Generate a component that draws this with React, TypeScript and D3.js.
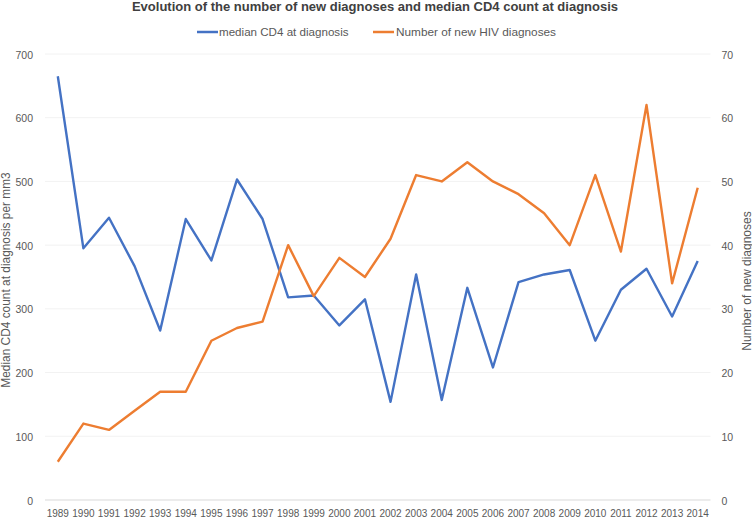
import React from "react";
import * as d3 from "d3";

const years = [
  "1989","1990","1991","1992","1993","1994","1995","1996","1997","1998","1999","2000","2001",
  "2002","2003","2004","2005","2006","2007","2008","2009","2010","2011","2012","2013","2014",
];
const medianCD4 = [665, 395, 443, 367, 266, 441, 376, 503, 441, 318, 321, 274, 315, 154, 354, 157, 333, 208, 342, 354, 361, 250, 330, 363, 288, 375];
const newDiagnoses = [6, 12, 11, 14, 17, 17, 25, 27, 28, 40, 32, 38, 35, 41, 51, 50, 53, 50, 48, 45, 40, 51, 39, 62, 34, 49];
const leftTicks = [0, 100, 200, 300, 400, 500, 600, 700];
const rightTicks = [0, 10, 20, 30, 40, 50, 60, 70];

const W = 752;
const H = 519;
const FONT = "'Liberation Sans', Arial, sans-serif";
const BLUE = "#4472C4";
const ORANGE = "#ED7D31";
const TXT = "#595959";

export default function App() {
  const left = 45, right = 710.5, top = 54, bottom = 500;
  const x = d3.scaleBand<string>().domain(years).range([left, right]);
  const yL = d3.scaleLinear().domain([0, 700]).range([bottom, top]);
  const yR = d3.scaleLinear().domain([0, 70]).range([bottom, top]);
  const cx = (d: string) => (x(d) as number) + x.bandwidth() / 2;

  const lineL = d3.line<number>().x((_, i) => cx(years[i])).y((d) => yL(d));
  const lineR = d3.line<number>().x((_, i) => cx(years[i])).y((d) => yR(d));

  return (
    <svg width={W} height={H} style={{ position: "absolute", left: 0, top: 0, background: "#fff" }} fontFamily={FONT}>
      <rect width={W} height={H} fill="#fff" />
      <text x={375} y={11} textAnchor="middle" fontSize={13} fontWeight="bold" fill="#404040">
        Evolution of the number of new diagnoses and median CD4 count at diagnosis
      </text>
      {/* legend */}
      <line x1={197} x2={218} y1={32} y2={32} stroke={BLUE} strokeWidth={2.5} />
      <text x={219} y={36} fontSize={11.6} fill={TXT}>median CD4 at diagnosis</text>
      <line x1={373} x2={394} y1={32} y2={32} stroke={ORANGE} strokeWidth={2.5} />
      <text x={396} y={36} fontSize={11.8} fill={TXT}>Number of new HIV diagnoses</text>

      {/* gridlines */}
      {leftTicks.map((t) => (
        <line key={"g" + t} x1={left} x2={right} y1={yL(t)} y2={yL(t)} stroke={t === 0 ? "#d9d9d9" : "#f2f2f2"} strokeWidth={1} />
      ))}
      {leftTicks.map((t) => (
        <text key={"l" + t} x={33} y={yL(t) + 4.5} textAnchor="end" fontSize={10.5} fill={TXT}>{t}</text>
      ))}
      {rightTicks.map((t) => (
        <text key={"r" + t} x={721.5} y={yR(t) + 4.5} textAnchor="start" fontSize={10.5} fill={TXT}>{t}</text>
      ))}
      {years.map((y) => (
        <text key={"x" + y} x={cx(y)} y={517} textAnchor="middle" fontSize={10} fill={TXT}>{y}</text>
      ))}
      <text transform={`translate(10,280) rotate(-90)`} textAnchor="middle" fontSize={11.9} fill={TXT}>
        Median CD4 count at diagnosis per mm3
      </text>
      <text transform={`translate(750.5,281) rotate(-90)`} textAnchor="middle" fontSize={12} fill={TXT}>
        Number of new diagnoses
      </text>

      <path d={lineL(medianCD4) || ""} fill="none" stroke={BLUE} strokeWidth={2.4} strokeLinejoin="round" />
      <path d={lineR(newDiagnoses) || ""} fill="none" stroke={ORANGE} strokeWidth={2.4} strokeLinejoin="round" />
    </svg>
  );
}
